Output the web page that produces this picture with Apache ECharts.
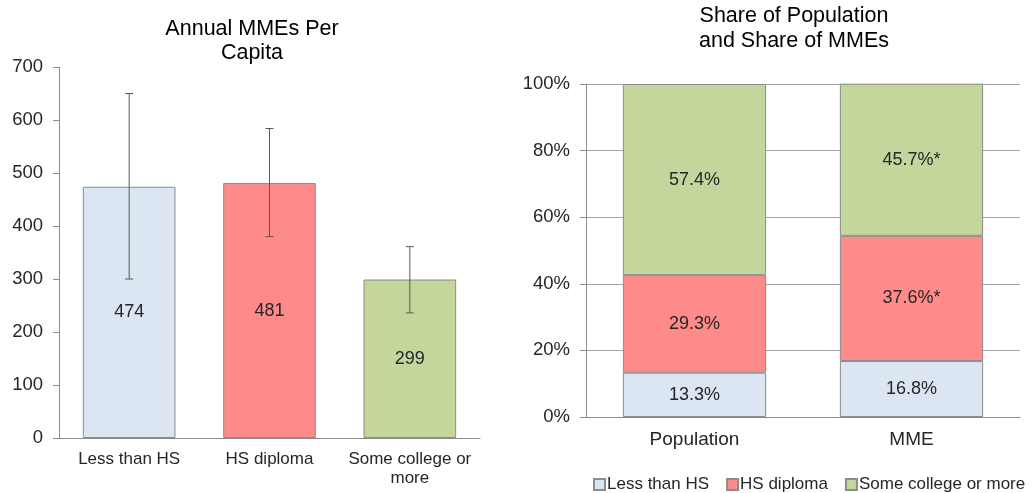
<!DOCTYPE html>
<html>
<head>
<meta charset="utf-8">
<script src="https://cdn.jsdelivr.net/npm/echarts@6/dist/echarts.min.js"></script>
<style>
  html, body { margin: 0; padding: 0; background: #fff; }
  #chart { width: 1034px; height: 493px; }
</style>
</head>
<body>
<div id="chart"></div>
<script>
// left panel: annual MMEs per capita
const eduGroups = ['Less than HS', 'HS diploma', 'Some college or\nmore']
const mmePerCapita = [474, 481, 299]
const errLow = [300, 380, 236]
const errHigh = [650, 584, 361]
const barColors = ['#DCE6F2', '#FF8A8A', '#C3D69B']

// right panel: shares
const shareCats = ['Population', 'MME']
const shareNames = ['Less than HS', 'HS diploma', 'Some college or more']
const shareLessHS = [13.3, 16.8]
const shareHSDiploma = [29.3, 37.6]
const shareSomeCollege = [57.4, 45.7]
const starLessHS = ['', '']
const starHSDiploma = ['', '*']
const starSomeCollege = ['', '*']

const font = 'Liberation Sans, Arial, sans-serif'
const textColor = '#262626'
const axisGray = '#8C8C8C'
const borderGray = '#8C8C8C'

const chart = echarts.init(document.getElementById('chart'))

const shareSeries = (name, data, stars, color) => ({
  name: name,
  type: 'bar',
  stack: 'share',
  xAxisIndex: 1,
  yAxisIndex: 1,
  barWidth: '66%',
  data: data,
  itemStyle: {color: color, borderColor: borderGray, borderWidth: 1},
  label: {
    show: true,
    position: 'inside',
    fontFamily: font,
    fontSize: 18,
    color: textColor,
    formatter: p => p.value.toFixed(1) + '%' + stars[p.dataIndex]
  }
})

const option = {
  animation: false,
  textStyle: {fontFamily: font},
  title: [
    {
      text: 'Annual MMEs Per\nCapita',
      left: 247, top: 12, textAlign: 'center',
      textStyle: {fontFamily: font, fontSize: 21.5, fontWeight: 'normal', color: '#000', lineHeight: 24}
    },
    {
      text: 'Share of Population\nand Share of MMEs',
      left: 789, top: -1, textAlign: 'center',
      textStyle: {fontFamily: font, fontSize: 21.5, fontWeight: 'normal', color: '#000', lineHeight: 25}
    }
  ],
  legend: {
    data: shareNames,
    left: 588,
    top: 471,
    width: 446,
    itemWidth: 11,
    itemHeight: 11,
    itemGap: 17,
    icon: 'rect',
    textStyle: {fontFamily: font, fontSize: 17, color: textColor, padding: [0, 0, 0, -3]}
  },
  grid: [
    {left: 59, right: 554, top: 67, bottom: 55},
    {left: 586, right: 14, top: 84, bottom: 76}
  ],
  xAxis: [
    {
      type: 'category', gridIndex: 0, data: eduGroups,
      axisLine: {lineStyle: {color: axisGray}},
      axisTick: {show: false},
      axisLabel: {interval: 0, fontFamily: font, fontSize: 17, color: textColor, margin: 12, lineHeight: 19}
    },
    {
      type: 'category', gridIndex: 1, data: shareCats,
      axisLine: {lineStyle: {color: axisGray}},
      axisTick: {show: false},
      axisLabel: {interval: 0, fontFamily: font, fontSize: 19, color: textColor, margin: 13}
    }
  ],
  yAxis: [
    {
      type: 'value', gridIndex: 0, min: 0, max: 700, interval: 100,
      axisLine: {show: true, lineStyle: {color: axisGray}},
      axisTick: {show: true, length: 6, lineStyle: {color: axisGray}},
      splitLine: {show: false},
      axisLabel: {fontFamily: font, fontSize: 18.5, color: textColor, margin: 16}
    },
    {
      type: 'value', gridIndex: 1, min: 0, max: 100, interval: 20,
      axisLine: {show: true, lineStyle: {color: axisGray}},
      axisTick: {show: true, length: 6, lineStyle: {color: axisGray}},
      splitLine: {show: true, lineStyle: {color: '#A6A6A6'}},
      axisLabel: {fontFamily: font, fontSize: 18.5, color: textColor, margin: 16, formatter: '{value}%'}
    }
  ],
  series: [
    {
      type: 'bar',
      xAxisIndex: 0,
      yAxisIndex: 0,
      barWidth: '66%',
      data: mmePerCapita.map((v, i) => ({value: v, itemStyle: {color: barColors[i]}})),
      itemStyle: {borderColor: borderGray, borderWidth: 1},
      label: {show: true, position: 'inside', fontFamily: font, fontSize: 18, color: textColor}
    },
    {
      type: 'custom',
      xAxisIndex: 0,
      yAxisIndex: 0,
      z: 5,
      data: eduGroups.map((c, i) => [i, errLow[i], errHigh[i]]),
      renderItem: (params, api) => {
        const hi = api.coord([api.value(0), api.value(2)])
        const lo = api.coord([api.value(0), api.value(1)])
        const w = 4
        const style = {stroke: '#595959', lineWidth: 1}
        return {
          type: 'group',
          children: [
            {type: 'line', shape: {x1: hi[0], y1: hi[1], x2: lo[0], y2: lo[1]}, style: style},
            {type: 'line', shape: {x1: hi[0] - w, y1: hi[1], x2: hi[0] + w, y2: hi[1]}, style: style},
            {type: 'line', shape: {x1: lo[0] - w, y1: lo[1], x2: lo[0] + w, y2: lo[1]}, style: style}
          ]
        }
      }
    },
    shareSeries(shareNames[0], shareLessHS, starLessHS, barColors[0]),
    shareSeries(shareNames[1], shareHSDiploma, starHSDiploma, barColors[1]),
    shareSeries(shareNames[2], shareSomeCollege, starSomeCollege, barColors[2])
  ]
}

chart.setOption(option)
</script>
</body>
</html>
